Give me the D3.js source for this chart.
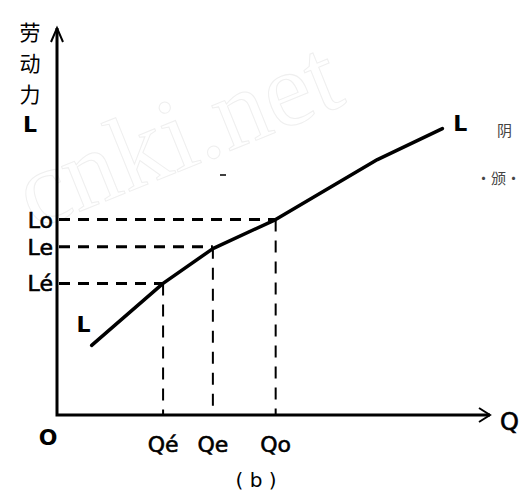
<!DOCTYPE html>
<html>
<head>
<meta charset="utf-8">
<script src="https://cdn.jsdelivr.net/npm/d3@7"></script>
<style>
  body { margin: 0; background: #fff; }
  svg { display: block; }
  text { font-family: "DejaVu Sans", sans-serif; fill: #000; }
  .lab { stroke: #000; stroke-width: 0.6px; }
</style>
</head>
<body>
<div id="chart"></div>
<script>
// labour demand curve L, Q on x, L on y (units 0-100)
var curveQ = [8, 24.5, 36, 50.5, 74, 89];
var curveL = [18, 34, 43, 50.5, 66, 74];

// the three marked points
var markNames = ["\u00e9", "e", "o"];
var markQ = [24.5, 36, 50.5];
var markL = [34, 43.5, 50.5];

var w = 530, h = 493;

var x = d3.scaleLinear().domain([0, 100]).range([57, 490]);
var y = d3.scaleLinear().domain([0, 100]).range([415, 28]);

var svg = d3.select("#chart").append("svg")
  .attr("width", w)
  .attr("height", h);

// faint watermark from the scan
svg.append("text")
  .attr("transform", "translate(34,230) rotate(-22)")
  .style("font-family", "Liberation Serif, serif")
  .style("font-size", "106px")
  .style("fill", "none")
  .style("stroke", "#efefef")
  .style("stroke-width", 1)
  .text("cnki.net");

// axes
svg.append("path")
  .attr("d", "M" + x(0) + "," + y(100) + "V" + y(0) + "H" + x(100))
  .style("fill", "none").style("stroke", "#000").style("stroke-width", 3);
// arrow heads
svg.append("path")
  .attr("d", "M" + (x(0) - 6) + "," + (y(100) + 14) + "L" + x(0) + "," + y(100) + "L" + (x(0) + 6) + "," + (y(100) + 14))
  .style("fill", "none").style("stroke", "#000").style("stroke-width", 2);
svg.append("path")
  .attr("d", "M" + (x(100) - 11) + "," + (y(0) - 7) + "L" + x(100) + "," + y(0) + "L" + (x(100) - 11) + "," + (y(0) + 7))
  .style("fill", "none").style("stroke", "#000").style("stroke-width", 2);

var marks = markQ.map(function(q, i) { return { q: q, l: markL[i], n: markNames[i] }; });

// horizontal dashes
svg.selectAll(".hd").data(marks).enter().append("line")
  .attr("x1", x(0) + 2).attr("x2", function(d) { return x(d.q); })
  .attr("y1", function(d) { return y(d.l); }).attr("y2", function(d) { return y(d.l); })
  .style("stroke", "#000").style("stroke-width", 3)
  .style("stroke-dasharray", "11,8");

// vertical dashes
svg.selectAll(".vd").data(marks).enter().append("line")
  .attr("x1", function(d) { return x(d.q); }).attr("x2", function(d) { return x(d.q); })
  .attr("y1", function(d) { return y(d.l); }).attr("y2", y(0))
  .style("stroke", "#000").style("stroke-width", 2)
  .style("stroke-dasharray", "12,9");

// curve
var pts = curveQ.map(function(q, i) { return [q, curveL[i]]; });
var line = d3.line()
  .x(function(d) { return x(d[0]); })
  .y(function(d) { return y(d[1]); });
svg.append("path")
  .datum(pts)
  .attr("d", line)
  .style("fill", "none").style("stroke", "#000")
  .style("stroke-width", 3.5).style("stroke-linecap", "round").style("stroke-linejoin", "round");

// y labels
svg.selectAll(".yl").data(marks).enter().append("text")
  .attr("class", "lab")
  .attr("x", x(0) - 4).attr("y", function(d) { return y(d.l) + 8; })
  .attr("text-anchor", "end")
  .style("font-size", "22px")
  .text(function(d) { return "L" + d.n; });

// x labels
svg.selectAll(".xl").data(marks).enter().append("text")
  .attr("class", "lab")
  .attr("x", function(d) { return x(d.q); }).attr("y", 452)
  .attr("text-anchor", "middle")
  .style("font-size", "22px")
  .text(function(d) { return "Q" + d.n; });

svg.append("text").attr("x", 48).attr("y", 445).attr("text-anchor", "middle")
  .style("font-size", "22px").style("font-weight", "bold").text("O");
svg.append("text").attr("class", "lab").attr("x", 500).attr("y", 430)
  .style("font-size", "24px").text("Q");
svg.append("text").attr("x", 256).attr("y", 487).attr("text-anchor", "middle")
  .style("font-size", "20px").text("( b )");

// y axis title
var yTitle = ["劳", "动", "力"];
svg.selectAll(".yt").data(yTitle).enter().append("text")
  .attr("x", 30).attr("y", function(d, i) { return 40 + i * 31; })
  .attr("text-anchor", "middle")
  .style("font-family", "Noto Sans CJK SC")
  .style("font-size", "21px")
  .text(function(d) { return d; });
svg.append("text").attr("x", 30).attr("y", 132).attr("text-anchor", "middle")
  .style("font-size", "22px").style("font-weight", "bold").text("L");

// curve end labels
svg.append("text").attr("x", x(curveQ[0]) - 8).attr("y", y(curveL[0]) - 13)
  .attr("text-anchor", "middle").style("font-size", "22px").style("font-weight", "bold").text("L");
svg.append("text").attr("x", x(curveQ[curveQ.length - 1]) + 18).attr("y", y(curveL[curveL.length - 1]) + 2)
  .attr("text-anchor", "middle").style("font-size", "22px").style("font-weight", "bold").text("L");

// stray marks from the scanned page
svg.append("text").attr("x", 497).attr("y", 136)
  .style("font-family", "Noto Sans CJK SC").style("font-size", "15px").style("fill", "#444").text("阴");
svg.append("text").attr("x", 476).attr("y", 184)
  .style("font-family", "Noto Sans CJK SC").style("font-size", "15px").style("fill", "#444").text("·颁·");
svg.append("path").attr("d", "M220,175h6").style("stroke", "#000").style("stroke-width", 1.5);
</script>
</body>
</html>
